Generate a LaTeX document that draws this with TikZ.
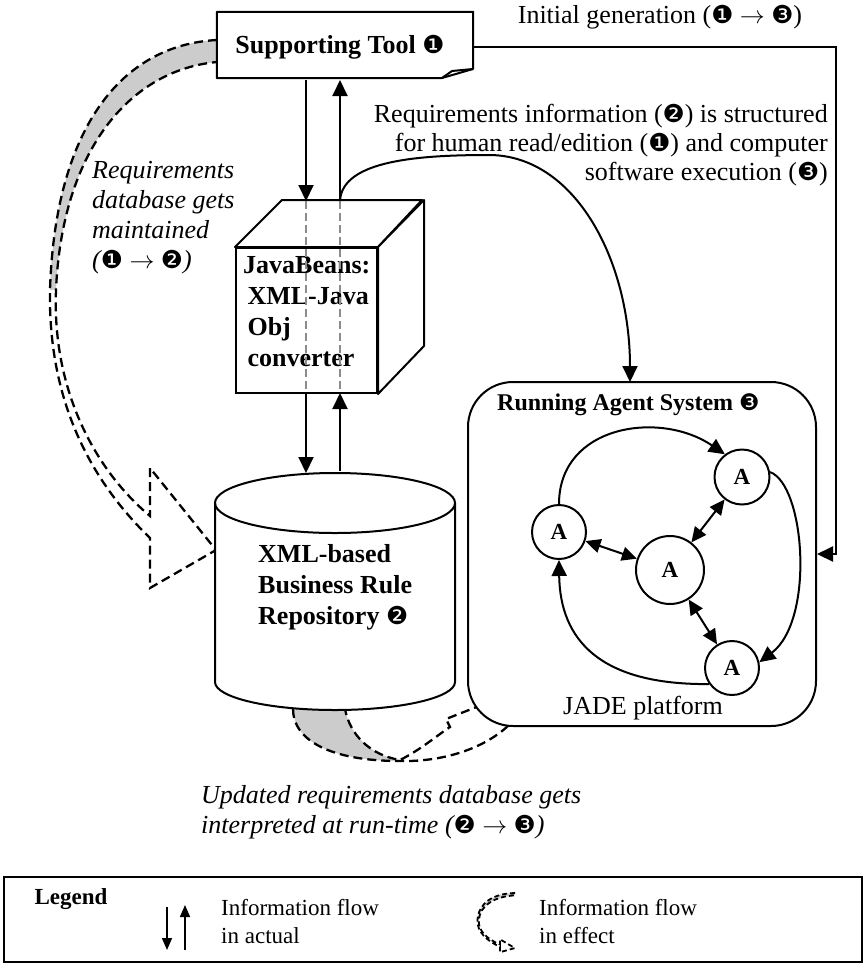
\documentclass[tikz,border=0pt]{standalone}
\usepackage{fontspec}
\setmainfont{Liberation Serif}
\newfontfamily\dingfont[Scale=0.95]{DejaVu Sans}
\usetikzlibrary{arrows.meta}
\newcommand\cnA{{\dingfont\mdseries\upshape ❶}}
\newcommand\cnB{{\dingfont\mdseries\upshape ❷}}
\newcommand\cnC{{\dingfont\mdseries\upshape ❸}}
\tikzset{
  ln/.style={line width=2pt},
  arr/.style={ln,-{Triangle[length=16pt,width=15pt]}},
  darr/.style={ln,{Triangle[length=15pt,width=14pt]}-{Triangle[length=15pt,width=14pt]}},
  dsh/.style={line width=2.3pt,dash pattern=on 9pt off 5pt},
  agent/.style={circle,draw,ln,fill=white,inner sep=0pt,font=\bfseries\fontsize{23}{23}\selectfont},
  txt/.style={inner sep=0pt,font=\fontsize{26}{29}\selectfont},
  btxt/.style={inner sep=0pt,font=\bfseries\fontsize{26}{31}\selectfont},
  itxt/.style={inner sep=0pt,font=\itshape\fontsize{26}{30}\selectfont},
}
\newcommand\flowshape[1]{%
  \begin{scope}
    \clip (0,0) rectangle (216.5,300);
    \fill[black!20] (217,40) .. controls (120,45) and (55,130) .. (50,290) -- (56,290) .. controls (62,150) and (130,70) .. (217,62) -- cycle;
  \end{scope}
  \draw[#1] (217,40) .. controls (120,45) and (55,130) .. (50,290) .. controls (48,400) and (90,480) .. (150,538) -- (150,588) -- (216,550) -- (150,468) -- (150,516) .. controls (95,470) and (52,390) .. (56,290) .. controls (62,150) and (130,70) .. (217,62);
}
\begin{document}
\begin{tikzpicture}[x=1pt,y=-1pt]
\useasboundingbox (0,0) rectangle (866,967);

% information flow in effect: tool -> repository
\flowshape{dsh}

% information flow in effect: repository -> agent system
\fill[black!20] (293,709) .. controls (293,740) and (330,761) .. (400,761) -- (400,760) .. controls (370,755) and (350,735) .. (345,709) -- cycle;
\draw[dsh] (293,709) .. controls (293,740) and (330,761) .. (400,761) .. controls (440,762) and (485,750) .. (512,722) -- (545,712) -- (525,688) -- (446,719) -- (450,727) .. controls (435,737) and (420,750) .. (400,760) .. controls (370,755) and (350,735) .. (345,709);

% repository cylinder
\node[minimum width=240,minimum height=237,inner sep=0pt] (repo) at (335,591.5) {};
\draw[ln,fill=white] (215,503) -- (215,682) arc[start angle=180,end angle=0,x radius=120,y radius=28] -- (455,503);
\draw[ln] (335,503) ellipse [x radius=120,y radius=30];
\node[btxt,align=left,anchor=west] (repotxt) at (258,587.5) {XML-based\\Business Rule\\Repository \cnB};

% running agent system
\node[draw,ln,rounded corners=45pt,fill=white,minimum width=348,minimum height=344,inner sep=0pt] (ras) at (642,554) {};
\node[inner sep=0pt,anchor=west,font=\bfseries\fontsize{24}{24}\selectfont] (rastitle) at (497,405) {Running Agent System \cnC};
\node[txt] (jade) at (643,708) {JADE platform};

\node[agent,minimum size=54] (A1) at (559,532) {A};
\node[agent,minimum size=55] (A2) at (742,477) {A};
\node[agent,minimum size=68] (A3) at (670,570) {A};
\node[agent,minimum size=54] (A4) at (732,668) {A};
\draw[arr] (A1.north) .. controls (559,425) and (660,410) .. (A2.127);
\draw[arr] (A2.10) .. controls (805,485) and (815,620) .. (A4.12);
\draw[arr] (A4.215) .. controls (600,685) and (560,640) .. (A1.south);
\draw[darr] (A1) -- (A3);
\draw[darr] (A3) -- (A2);
\draw[darr] (A3) -- (A4);

% cube
\node[draw,ln,fill=white,minimum width=141,minimum height=145,inner sep=0pt] (cube) at (306.5,320.5) {};
\draw[ln,fill=white,line join=round] (cube.north west) -- ++(47,-47) -- ++(140,0) -- (cube.north east) -- cycle;
\draw[ln,fill=white,line join=round] (cube.north east) -- ++(46,-47) -- ++(0,146) -- (cube.south east) -- cycle;
\node[btxt,align=left,anchor=west] (cubetxt) at (243,311.5) {JavaBeans:\\\,XML-Java\\\,Obj\\\,converter};
\coordinate (cubeTopL) at (306,201);
\coordinate (cubeTopR) at (340,201);
\coordinate (cubeBotL) at (306,393);
\coordinate (cubeBotR) at (340,393);
\draw[black!45,line width=1.8pt,dash pattern=on 8pt off 4pt] (cubeTopL) -- (cubeBotL);
\draw[black!45,line width=1.8pt,dash pattern=on 8pt off 4pt] (cubeTopR) -- (cubeBotR);

% supporting tool
\node[minimum width=256,minimum height=66,inner sep=0pt] (tool) at (345,45) {};
\draw[ln,fill=white,line join=round] (tool.north west) -- (tool.north east) -- (473,69) -- (442,78) -- (tool.south west) -- cycle;
\draw[ln,line join=round] (442,78) -- (452,71) -- (473,69);
\node[btxt] (tooltxt) at (340,47) {Supporting Tool \cnA};

% actual flows
\coordinate (toolBotL) at (306,80);
\coordinate (toolBotR) at (340,80);
\coordinate (repoTopL) at (306,473);
\coordinate (repoTopR) at (340,471);
\draw[arr] (toolBotL) -- (cubeTopL);
\draw[arr] (cubeTopR) -- (toolBotR);
\draw[arr] (cubeBotL) -- (repoTopL);
\draw[arr] (repoTopR) -- (cubeBotR);

% structured info connector
\coordinate (rasTop) at (630,382);
\draw[arr] (cubeTopR) .. controls (342,160) and (420,155) .. (490,155) .. controls (575,156) and (630,260) .. (rasTop);

% initial generation connector
\coordinate (toolR) at (473,47);
\draw[arr] (toolR) -| ([xshift=19pt]ras.east) -- (ras.east);

% texts
\node[txt] (initgen) at (660,17) {Initial generation (\cnA\ $\rightarrow$ \cnC)};
\node[txt,align=right,anchor=east] (reqinfo) at (828,145) {Requirements information (\cnB) is structured\\for human read/edition (\cnA) and computer\\software execution (\cnC)};
\node[itxt,align=left,anchor=west] (maint) at (92,218) {Requirements\\database gets\\maintained\\(\cnA\ $\rightarrow$ \cnB)};
\node[itxt,align=left,anchor=west] (interp) at (201,812) {Updated requirements database gets\\interpreted at run-time (\cnB\ $\rightarrow$ \cnC)};

% legend
\node[draw,line width=1.4pt,minimum width=858,minimum height=85,inner sep=0pt] (legend) at (433,919.5) {};
\node[inner sep=0pt,font=\bfseries\fontsize{23}{23}\selectfont] (legtitle) at (71,899) {Legend};
\coordinate (lgA1) at (167,907);
\coordinate (lgA2) at (167,950);
\coordinate (lgB1) at (185,950);
\coordinate (lgB2) at (185,905);
\draw[line width=1.6pt,-{Triangle[length=12pt,width=10pt]}] (lgA1) -- (lgA2);
\draw[line width=1.6pt,-{Triangle[length=12pt,width=10pt]}] (lgB1) -- (lgB2);
\node[inner sep=0pt,align=left,anchor=west,font=\fontsize{23}{28}\selectfont] (legt1) at (221,922) {Information flow\\in actual};
\begin{scope}[shift={(477,893)},xscale=0.225,yscale=0.108,shift={(-48,-40)}]
  \flowshape{line width=1.8pt,dash pattern=on 5pt off 3pt}
\end{scope}
\node[inner sep=0pt,align=left,anchor=west,font=\fontsize{23}{28}\selectfont] (legt2) at (539,922) {Information flow\\in effect};
\end{tikzpicture}
\end{document}
